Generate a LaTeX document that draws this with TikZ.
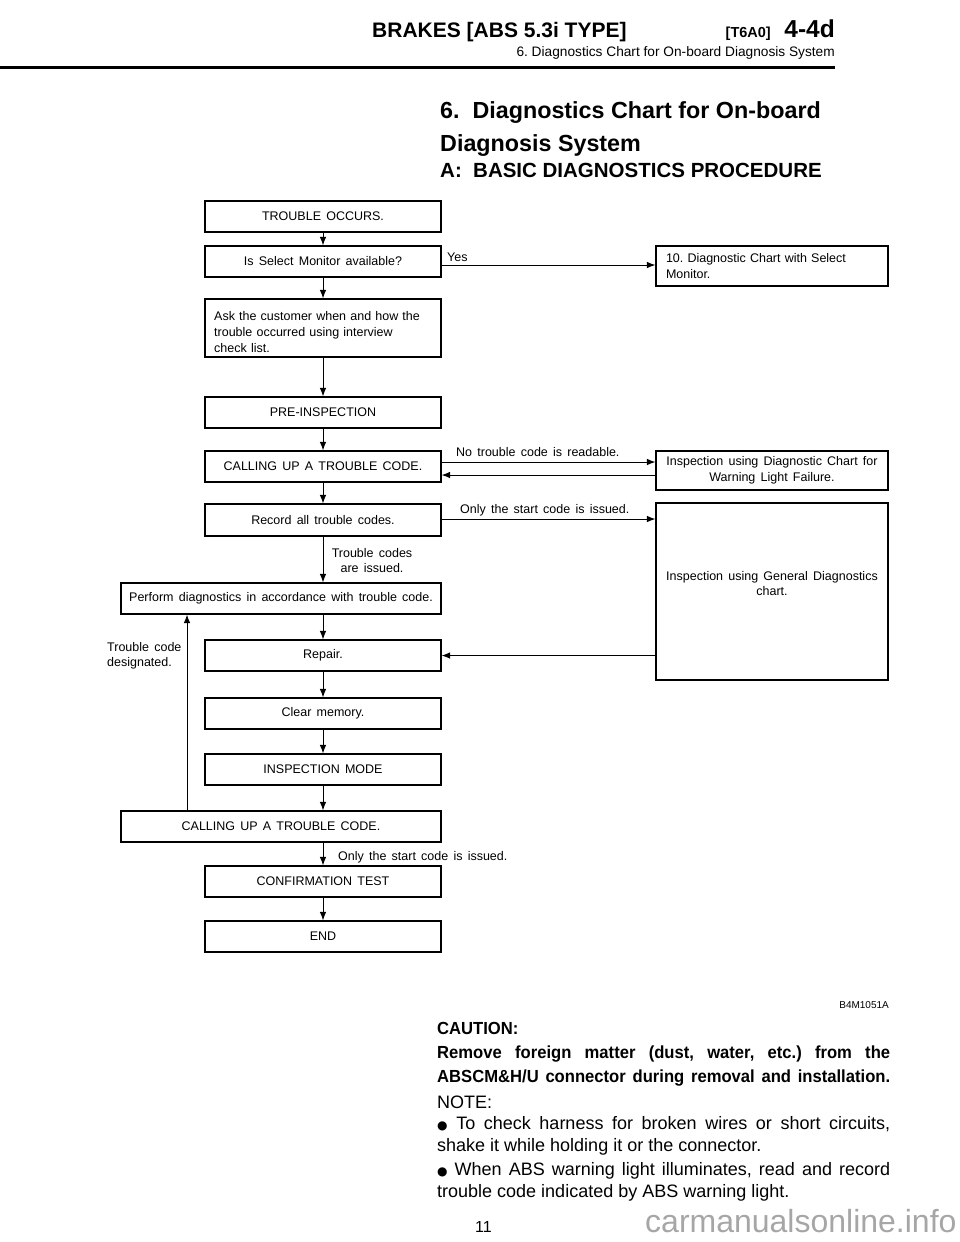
\documentclass[tikz,border=0pt]{standalone}
\usepackage{fontspec}
\setmainfont{Liberation Sans}
\newfontfamily\boxfnt[WordSpace=1.5]{Liberation Sans}
\newfontfamily\cautfnt[FakeStretch=0.95]{Liberation Sans}
\newfontfamily\symfnt{DejaVu Sans}
\usetikzlibrary{arrows.meta}
\frenchspacing
\begin{document}
\begin{tikzpicture}[x=1pt,y=-1pt,
  box/.style={draw, line width=1.1pt, inner sep=0pt, minimum height=31pt,
    font=\boxfnt\fontsize{12.5}{16.5}\selectfont},
  lbox/.style={box, minimum width=236pt},
  wbox/.style={box, minimum width=320pt},
  rbox/.style={box, minimum width=232pt},
  arr/.style={-{Latex[length=8.5pt,width=6.5pt]}, line width=1pt},
  lab/.style={inner sep=0pt, font=\boxfnt\fontsize{12.5}{15}\selectfont},
  ptxt/.style={inner sep=0pt, anchor=base west},
]
\useasboundingbox (0,0) rectangle (960,1242);

% header
\node[ptxt, font=\bfseries\fontsize{21}{21}\selectfont] (hd) at (372,37) {BRAKES [ABS 5.3i TYPE]};
\node[inner sep=0pt, anchor=base east, font=\bfseries\fontsize{24.5}{24.5}\selectfont] (pg) at (835,37) {4-4d};
\node[inner sep=0pt, anchor=base east, font=\bfseries\fontsize{14.5}{14.5}\selectfont] (tg) at (771,37) {[T6A0]};
\node[inner sep=0pt, anchor=base east, font=\fontsize{13.7}{13.7}\selectfont] (sub) at (835,56) {6. Diagnostics Chart for On-board Diagnosis System};
\coordinate (rl) at (0,67.5);
\coordinate (rr) at (835,67.5);
\draw[line width=3pt] (rl) -- (rr);

% title
\node[ptxt, font=\bfseries\fontsize{23.3}{23.3}\selectfont] (ti1) at (440,118) {6.\ \ Diagnostics Chart for On-board};
\node[ptxt, font=\bfseries\fontsize{23.3}{23.3}\selectfont] (ti2) at (440,151) {Diagnosis System};
\node[ptxt, font=\bfseries\fontsize{20.5}{20.5}\selectfont] (ti3) at (440,177) {A:\ \ BASIC DIAGNOSTICS PROCEDURE};

% left column
\node[lbox] (t1) at (323,216.5) {TROUBLE OCCURS.};
\node[lbox] (t2) at (323,261.5) {Is Select Monitor available?};
\node[lbox, minimum height=58pt] (t3) at (323,328) {};
\node[lab, text width=216pt, align=left, anchor=north west, font=\boxfnt\fontsize{12.5}{16.3}\selectfont] (t3t) at (214,311)
  {Ask the customer when and how the\\trouble occurred using interview\\check list.};
\node[lbox] (t4) at (323,412.5) {PRE-INSPECTION};
\node[lbox] (t5) at (323,466.5) {CALLING UP A TROUBLE CODE.};
\node[lbox, minimum height=32pt] (t6) at (323,520) {Record all trouble codes.};
\node[wbox] (t7) at (281,598.5) {Perform diagnostics in accordance with trouble code.};
\node[lbox] (t8) at (323,655.5) {Repair.};
\node[lbox] (t9) at (323,713.5) {Clear memory.};
\node[lbox] (t10) at (323,769.5) {INSPECTION MODE};
\node[wbox] (t11) at (281,826.5) {CALLING UP A TROUBLE CODE.};
\node[lbox] (t12) at (323,881.5) {CONFIRMATION TEST};
\node[lbox] (t13) at (323,936.5) {END};

% right column
\node[box, minimum height=40pt, text width=212pt, inner xsep=10pt, align=left] (r1) at (772,266)
  {10. Diagnostic Chart with Select\\Monitor.};
\node[rbox, minimum height=39pt, align=center] (r2) at (772,470.5)
  {Inspection using Diagnostic Chart for\\Warning Light Failure.};
\node[rbox, minimum height=177pt] (r3) at (772,591.5) {};
\node[lab, align=center] (r3t) at (772,584) {Inspection using General Diagnostics\\chart.};

% vertical arrows
\draw[arr] (t1) -- (t2);
\draw[arr] (t2) -- (t3);
\draw[arr] (t3) -- (t4);
\draw[arr] (t4) -- (t5);
\draw[arr] (t5) -- (t6);
\draw[arr] (t6.south) -- (t6.south |- t7.north);
\draw[arr] (t7.south -| t8.north) -- (t8.north);
\draw[arr] (t8) -- (t9);
\draw[arr] (t9) -- (t10);
\draw[arr] (t10.south) -- (t10.south |- t11.north);
\draw[arr] (t11.south -| t12.north) -- (t12.north);
\draw[arr] (t12) -- (t13);

% loop back
\coordinate (lx) at (187,0);
\draw[arr] (t11.north -| lx) -- (t7.south -| lx);

% horizontal arrows
\coordinate (ya) at (0,265);
\coordinate (yb) at (0,462);
\coordinate (yc) at (0,475);
\coordinate (yd) at (0,519);
\coordinate (ye) at (0,655.5);
\draw[arr] (t2.east |- ya) -- (r1.west |- ya);
\draw[arr] (t5.east |- yb) -- (r2.west |- yb);
\draw[arr] (r2.west |- yc) -- (t5.east |- yc);
\draw[arr] (t6.east |- yd) -- (r3.west |- yd);
\draw[arr] (r3.west |- ye) -- (t8.east |- ye);

% connector labels
\node[lab, anchor=base west] (lyes) at (447,261) {Yes};
\node[lab, anchor=base west] (lno) at (456,456) {No trouble code is readable.};
\node[lab, anchor=base west] (lonly) at (460,513) {Only the start code is issued.};
\node[lab, align=center, anchor=north] (liss) at (372,548) {Trouble codes\\are issued.};
\node[lab, align=left, anchor=north west] (ldes) at (107,642) {Trouble code\\designated.};
\node[lab, anchor=base west] (lonly2) at (338,860) {Only the start code is issued.};

% bottom text
\node[inner sep=0pt, anchor=base east, font=\fontsize{10}{10}\selectfont] (code) at (889,1008) {B4M1051A};
\node[ptxt, font=\cautfnt\bfseries\fontsize{17.5}{17.5}\selectfont] (c1) at (437,1034) {CAUTION:};
\node[ptxt, font=\cautfnt\bfseries\fontsize{17.5}{17.5}\selectfont] (c2) at (437,1058) {\makebox[453pt][s]{Remove foreign matter (dust, water, etc.) from the}};
\node[ptxt, font=\cautfnt\bfseries\fontsize{17.5}{17.5}\selectfont] (c3) at (437,1082) {\makebox[453pt][s]{ABSCM\&H/U connector during removal and installation.}};
\node[ptxt, font=\fontsize{18}{18}\selectfont] (n0) at (437,1108) {NOTE:};
\node[ptxt, font=\fontsize{18}{18}\selectfont] (n1) at (437,1129) {\makebox[453pt][s]{{\symfnt\fontsize{12}{12}\selectfont●} To check harness for broken wires or short circuits,}};
\node[ptxt, font=\fontsize{18}{18}\selectfont] (n2) at (437,1151) {shake it while holding it or the connector.};
\node[ptxt, font=\fontsize{18}{18}\selectfont] (n3) at (437,1175) {\makebox[453pt][s]{{\symfnt\fontsize{12}{12}\selectfont●} When ABS warning light illuminates, read and record}};
\node[ptxt, font=\fontsize{18}{18}\selectfont] (n4) at (437,1197) {trouble code indicated by ABS warning light.};
\node[ptxt, font=\fontsize{16}{16}\selectfont] (pn) at (475,1232) {11};
\node[ptxt, text=black!35, font=\fontsize{32}{32}\selectfont] (wm) at (645,1232) {carmanualsonline.info};
\end{tikzpicture}
\end{document}
